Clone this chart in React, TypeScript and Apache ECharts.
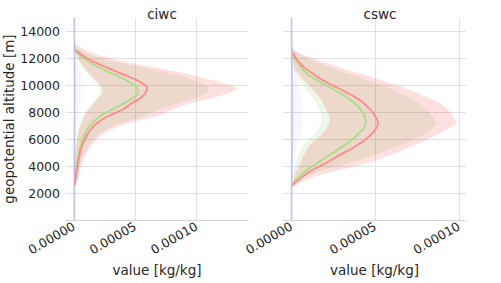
import React, { useEffect, useRef } from 'react';
import * as echarts from 'echarts';

// values are in units of 1e-5 kg/kg
const UNIT = 1e-5;

const panelTitles = ['ciwc', 'cswc'];
const xTickValues = [0, 0.00005, 0.0001];
const yTickValues = [2000, 4000, 6000, 8000, 10000, 12000, 14000];

// ---- ciwc ----
const ciwcAlt = [13300, 13000, 12600, 12200, 11800, 11400, 11000, 10600, 10200, 9800, 9400, 9000, 8600, 8200, 7800, 7400, 7000, 6500, 6000, 5500, 5000, 4500, 4000, 3500, 3000, 2600];
const ciwcRedMean = [null, null, 0.2, 0.75, 1.5, 2.5, 3.5, 4.6, 5.5, 5.96, 5.8, 5.35, 4.6, 4.0, 3.0, 2.2, 1.65, 1.2, 0.9, 0.65, 0.5, 0.38, 0.29, 0.2, 0.13, 0.06];
const ciwcGreenMean = [null, null, 0.1, 0.55, 1.15, 1.9, 2.8, 3.8, 4.6, 5.15, 5.2, 4.7, 3.95, 3.1, 2.3, 1.7, 1.3, 0.95, 0.72, 0.55, 0.4, 0.3, 0.22, 0.15, null, null];
const ciwcRedLow = [0, 0, 0.05, 0.2, 0.45, 0.75, 1.15, 1.55, 1.95, 2.3, 2.28, 1.95, 1.55, 1.2, 0.9, 0.72, 0.52, 0.35, 0.25, 0.18, 0.12, 0.08, 0.05, 0.03, 0, 0];
const ciwcRedHigh = [0, 0.25, 1.0, 2.2, 3.9, 6.2, 8.5, 10.3, 12.1, 13.4, 12.6, 11.0, 9.3, 8.0, 7.1, 5.4, 3.8, 2.55, 1.85, 1.4, 1.05, 0.8, 0.6, 0.45, 0.3, 0.1];
const ciwcGreenLow = [0, 0, 0.03, 0.15, 0.38, 0.65, 1.0, 1.38, 1.78, 2.1, 2.08, 1.78, 1.4, 1.08, 0.8, 0.62, 0.45, 0.3, 0.2, 0.14, 0.1, 0.06, 0.04, 0.02, 0, 0];
const ciwcGreenHigh = [0, 0.05, 0.5, 1.6, 3.0, 5.3, 7.2, 9.1, 10.3, 11.0, 10.8, 9.7, 8.3, 7.0, 6.0, 4.6, 3.3, 2.2, 1.6, 1.2, 0.85, 0.62, 0.45, 0.32, 0.18, 0];
const ciwcBlueLow = [0, 0, 0, 0, 0, 0, 0, 0, 0, 0, 0, 0, 0, 0, 0, 0, 0, 0, 0, 0, 0, 0, 0, 0, 0, 0];
const ciwcBlueHigh = [0.05, 0.08, 0.1, 0.15, 0.3, 0.45, 0.6, 0.7, 0.75, 0.78, 0.72, 0.6, 0.48, 0.38, 0.3, 0.25, 0.2, 0.17, 0.15, 0.13, 0.12, 0.11, 0.1, 0.1, 0.1, 0.1];

// ---- cswc ----
const cswcAlt = [12800, 12400, 12000, 11600, 11200, 10800, 10400, 10000, 9600, 9200, 8800, 8400, 8000, 7600, 7200, 6800, 6400, 6000, 5600, 5200, 4800, 4400, 4000, 3600, 3200, 2800, 2600, 2400];
const cswcRedMean = [null, 0.1, 0.28, 0.55, 0.9, 1.35, 1.85, 2.45, 3.1, 3.7, 4.2, 4.55, 4.85, 5.05, 5.18, 5.05, 4.8, 4.45, 4.0, 3.45, 2.85, 2.3, 1.7, 1.1, 0.65, 0.25, 0.08, null];
const cswcGreenMean = [null, 0.08, 0.2, 0.42, 0.68, 1.0, 1.5, 2.05, 2.65, 3.2, 3.65, 4.0, 4.25, 4.4, 4.44, 4.3, 4.0, 3.65, 3.25, 2.75, 2.25, 1.75, 1.25, 0.8, 0.45, 0.15, null, null];
const cswcRedLow = [0, 0.02, 0.08, 0.15, 0.22, 0.45, 0.72, 1.05, 1.35, 1.6, 1.85, 2.0, 2.15, 2.27, 2.25, 2.1, 1.85, 1.5, 1.12, 0.9, 0.75, 0.6, 0.45, 0.3, 0.18, 0.1, 0.05, 0];
const cswcRedHigh = [0, 0.5, 1.3, 2.3, 3.2, 4.3, 5.3, 6.3, 7.2, 7.95, 8.65, 9.15, 9.5, 9.7, 9.87, 9.4, 8.8, 8.15, 7.45, 6.7, 5.9, 5.0, 3.8, 2.5, 1.35, 0.6, 0.3, 0.1];
const cswcGreenLow = [0, 0, 0.03, 0.07, 0.12, 0.28, 0.48, 0.72, 0.98, 1.22, 1.43, 1.58, 1.72, 1.8, 1.78, 1.62, 1.36, 1.04, 0.76, 0.58, 0.42, 0.3, 0.2, 0.14, 0.08, 0.04, 0.02, 0];
const cswcGreenHigh = [0, 0.35, 0.95, 1.75, 2.6, 3.6, 4.5, 5.4, 6.2, 6.85, 7.45, 7.85, 8.2, 8.45, 8.65, 8.4, 7.95, 7.35, 6.65, 5.75, 4.85, 4.0, 2.8, 1.65, 0.85, 0.35, 0.15, 0];
const cswcBlueLow = [0, 0, 0, 0, 0, 0, 0, 0, 0, 0, 0, 0, 0, 0, 0, 0, 0, 0, 0, 0, 0, 0, 0, 0, 0, 0, 0, 0];
const cswcBlueHigh = [0.05, 0.08, 0.12, 0.18, 0.25, 0.32, 0.4, 0.47, 0.53, 0.58, 0.62, 0.66, 0.68, 0.7, 0.7, 0.66, 0.58, 0.48, 0.38, 0.28, 0.2, 0.15, 0.12, 0.1, 0.1, 0.1, 0.1, 0.1];

// ---- blue mean (full height) ----
const blueAlt = [15000, 14000, 12000, 10000, 8000, 6000, 4000, 2000, 0];
const ciwcBlueMean = [0.01, 0.02, 0.04, 0.06, 0.05, 0.04, 0.03, 0.02, 0.01];
const cswcBlueMean = [0.01, 0.02, 0.03, 0.05, 0.06, 0.05, 0.03, 0.02, 0.01];

const xMin = [-0.65e-5, -0.5e-5];
const xMax = [14.2e-5, 10.42e-5];

const FONT = 'DejaVu Sans';
const TXT = '#262626';
const GRID = '#e0e0e4';

function band(xi: number, alts: number[], lo: number[], hi: number[], fill: string, z: number) {
  return {
    type: 'custom',
    xAxisIndex: xi,
    yAxisIndex: xi,
    silent: true,
    clip: true,
    z,
    data: [[0, alts[0]]],
    renderItem: (_p: any, api: any) => {
      const pts: number[][] = [];
      for (let i = 0; i < alts.length; i++) pts.push(api.coord([lo[i] * UNIT, alts[i]]));
      for (let i = alts.length - 1; i >= 0; i--) pts.push(api.coord([hi[i] * UNIT, alts[i]]));
      return { type: 'polygon', shape: { points: pts, smooth: 0.2 }, style: { fill, stroke: 'none' } };
    },
  };
}

function line(xi: number, alts: number[], vals: (number | null)[], color: string, width: number, z: number) {
  const data: number[][] = [];
  alts.forEach((a, i) => {
    const v = vals[i];
    if (v !== null && v !== undefined) data.push([v * UNIT, a]);
  });
  return {
    type: 'line',
    xAxisIndex: xi,
    yAxisIndex: xi,
    data,
    symbol: 'none',
    showSymbol: false,
    smooth: 0.3,
    silent: true,
    z,
    lineStyle: { color, width },
  };
}

export default function App() {
  const ref = useRef<HTMLDivElement>(null);
  useEffect(() => {
    if (!ref.current) return;
    const chart = echarts.init(ref.current, undefined, { renderer: 'svg' });
    const xAxes = [0, 1].map((i) => ({
      type: 'value',
      gridIndex: i,
      min: xMin[i],
      max: xMax[i],
      name: 'value [kg/kg]',
      nameLocation: 'middle',
      nameGap: 34,
      nameTextStyle: { fontFamily: FONT, fontSize: 13.5, color: TXT },
      axisLine: { show: true, lineStyle: { color: '#d4d4d8', width: 1.2 } },
      axisTick: { show: false, customValues: xTickValues },
      axisLabel: {
        customValues: xTickValues,
        rotate: 30,
        margin: 5,
        fontFamily: FONT,
        fontSize: 12.5,
        color: TXT,
        formatter: (v: number) => v.toFixed(5),
      },
      splitLine: { show: true, lineStyle: { color: GRID, width: 1 } },
    }));
    const yAxes = [0, 1].map((i) => ({
      type: 'value',
      gridIndex: i,
      min: 0,
      max: 15000,
      name: i === 0 ? 'geopotential altitude [m]' : '',
      nameLocation: 'middle',
      nameGap: 46,
      nameTextStyle: { fontFamily: FONT, fontSize: 13.5, color: TXT },
      axisLine: { show: true, lineStyle: { color: '#d4d4d8', width: 1.2 } },
      axisTick: { show: false, customValues: yTickValues },
      axisLabel: {
        show: i === 0,
        customValues: yTickValues,
        margin: 6,
        fontFamily: FONT,
        fontSize: 12.5,
        color: TXT,
        formatter: (v: number) => String(Math.round(v)),
      },
      splitLine: { show: true, lineStyle: { color: GRID, width: 1 } },
    }));
    const option: any = {
      animation: false,
      backgroundColor: '#ffffff',
      title: [
        { text: panelTitles[0], left: 157, top: 2, textAlign: 'center', textStyle: { fontFamily: FONT, fontSize: 13.5, fontWeight: 'normal', color: TXT } },
        { text: panelTitles[1], left: 375, top: 2, textAlign: 'center', textStyle: { fontFamily: FONT, fontSize: 13.5, fontWeight: 'normal', color: TXT } },
      ],
      grid: [
        { left: 66, right: 253, top: 18, bottom: 63 },
        { left: 283, right: 35, top: 18, bottom: 63 },
      ],
      xAxis: xAxes,
      yAxis: yAxes,
      series: [
        band(0, ciwcAlt, ciwcRedLow, ciwcRedHigh, 'rgba(255,0,0,0.12)', 1),
        band(0, ciwcAlt, ciwcGreenLow, ciwcGreenHigh, 'rgba(60,160,0,0.09)', 2),
        band(0, ciwcAlt, ciwcBlueLow, ciwcBlueHigh, 'rgba(0,0,255,0.03)', 3),
        line(0, blueAlt, ciwcBlueMean, 'rgba(175,175,255,0.5)', 1.8, 4),
        line(0, ciwcAlt, ciwcGreenMean, '#a8dc88', 1.8, 5),
        line(0, ciwcAlt, ciwcRedMean, '#ff8a8a', 1.8, 6),
        band(1, cswcAlt, cswcRedLow, cswcRedHigh, 'rgba(255,0,0,0.12)', 1),
        band(1, cswcAlt, cswcGreenLow, cswcGreenHigh, 'rgba(60,160,0,0.09)', 2),
        band(1, cswcAlt, cswcBlueLow, cswcBlueHigh, 'rgba(0,0,255,0.03)', 3),
        line(1, blueAlt, cswcBlueMean, 'rgba(175,175,255,0.5)', 1.8, 4),
        line(1, cswcAlt, cswcGreenMean, '#a8dc88', 1.8, 5),
        line(1, cswcAlt, cswcRedMean, '#ff8a8a', 1.8, 6),
      ],
    };
    chart.setOption(option);
    return () => chart.dispose();
  }, []);
  return (
    <div
      ref={ref}
      style={{ position: 'fixed', left: 0, top: 0, width: 501, height: 283, background: '#fff' }}
    />
  );
}
